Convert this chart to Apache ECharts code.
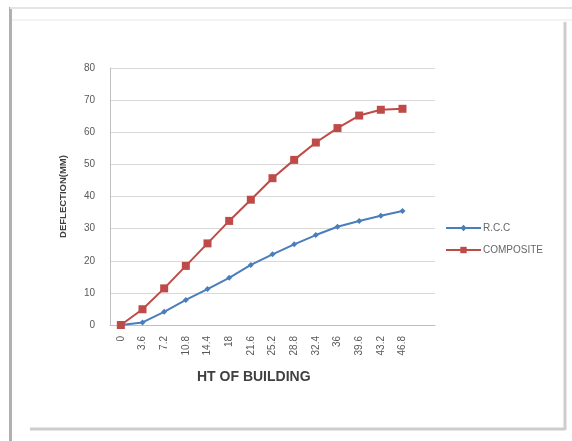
<!DOCTYPE html>
<html>
<head>
<meta charset="utf-8">
<script src="https://cdn.jsdelivr.net/npm/echarts@6/dist/echarts.min.js"></script>
<style>
  html, body { margin: 0; padding: 0; background: #fff; }
  #chart { width: 572px; height: 441px; }
</style>
</head>
<body>
<div id="chart"></div>
<script>
// Building height (m) at each storey level; the last slot is an unused category
const heights = ['0', '3.6', '7.2', '10.8', '14.4', '18', '21.6', '25.2', '28.8', '32.4', '36', '39.6', '43.2', '46.8', ''];
// Lateral deflection (mm)
const rccDeflection = [0, 0.8, 4.1, 7.8, 11.2, 14.7, 18.7, 22.0, 25.1, 28.0, 30.6, 32.4, 34.0, 35.5, null];
const compositeDeflection = [0, 4.9, 11.4, 18.4, 25.4, 32.4, 39.0, 45.7, 51.4, 56.8, 61.3, 65.2, 67.0, 67.3, null];
const yTicks = { min: 0, max: 80, step: 10 };

const chart = echarts.init(document.getElementById('chart'));
const labelGray = '#595959';
const font = 'Liberation Sans, Arial, sans-serif';

chart.setOption({
  animation: false,
  backgroundColor: '#fff',
  textStyle: { fontFamily: font },
  grid: { left: 110, right: 137, top: 68, bottom: 116, containLabel: false },
  legend: {
    orient: 'vertical',
    left: 440,
    top: 218,
    itemWidth: 35,
    itemHeight: 8,
    itemGap: 12,
    textStyle: { fontSize: 10, color: '#666', padding: [0, 0, 0, -3] },
    data: ['R.C.C', 'COMPOSITE']
  },
  xAxis: {
    type: 'category',
    data: heights,
    boundaryGap: true,
    axisLine: { lineStyle: { color: '#bfbfbf', width: 1 } },
    axisTick: { show: false },
    axisLabel: { rotate: 90, fontSize: 10, color: labelGray, margin: 11 }
  },
  yAxis: {
    type: 'value',
    min: yTicks.min,
    max: yTicks.max,
    interval: yTicks.step,
    axisLine: { show: true, lineStyle: { color: '#bfbfbf', width: 1 } },
    axisTick: { show: false },
    axisLabel: { fontSize: 10, color: labelGray, margin: 15 },
    splitLine: { lineStyle: { color: '#d9d9d9', width: 1 } },
    name: 'DEFLECTION(MM)',
    nameLocation: 'middle',
    nameGap: 42,
    nameRotate: 90,
    nameTextStyle: { fontSize: 9.5, fontWeight: 'bold', color: '#404040' }
  },
  graphic: [
    // page frame
    { type: 'rect', shape: { x: 9, y: 7, width: 3, height: 434 }, style: { fill: '#b0b0b0' }, silent: true },
    { type: 'line', shape: { x1: 10, y1: 8, x2: 572, y2: 8 }, style: { stroke: '#e4e4e4', lineWidth: 2 }, silent: true },
    { type: 'line', shape: { x1: 12, y1: 20, x2: 572, y2: 20 }, style: { stroke: '#f4f4f4', lineWidth: 2 }, silent: true },
    { type: 'line', shape: { x1: 565, y1: 22, x2: 565, y2: 430 }, style: { stroke: '#cdcdcd', lineWidth: 3 }, silent: true },
    { type: 'line', shape: { x1: 30, y1: 429, x2: 565, y2: 429 }, style: { stroke: '#cdcdcd', lineWidth: 3 }, silent: true },
    {
      type: 'text', left: 197, top: 370,
      style: { text: 'HT OF BUILDING', fontSize: 14, fontWeight: 'bold', fill: '#404040', fontFamily: font },
      silent: true
    }
  ],
  series: [
    {
      name: 'R.C.C',
      type: 'line',
      data: rccDeflection,
      symbol: 'diamond',
      symbolSize: 6,
      lineStyle: { color: '#4a7ebb', width: 2 },
      itemStyle: { color: '#4a7ebb' }
    },
    {
      name: 'COMPOSITE',
      type: 'line',
      data: compositeDeflection,
      symbol: 'rect',
      symbolSize: 8,
      lineStyle: { color: '#be4b48', width: 2 },
      itemStyle: { color: '#be4b48' }
    }
  ]
});
</script>
</body>
</html>
